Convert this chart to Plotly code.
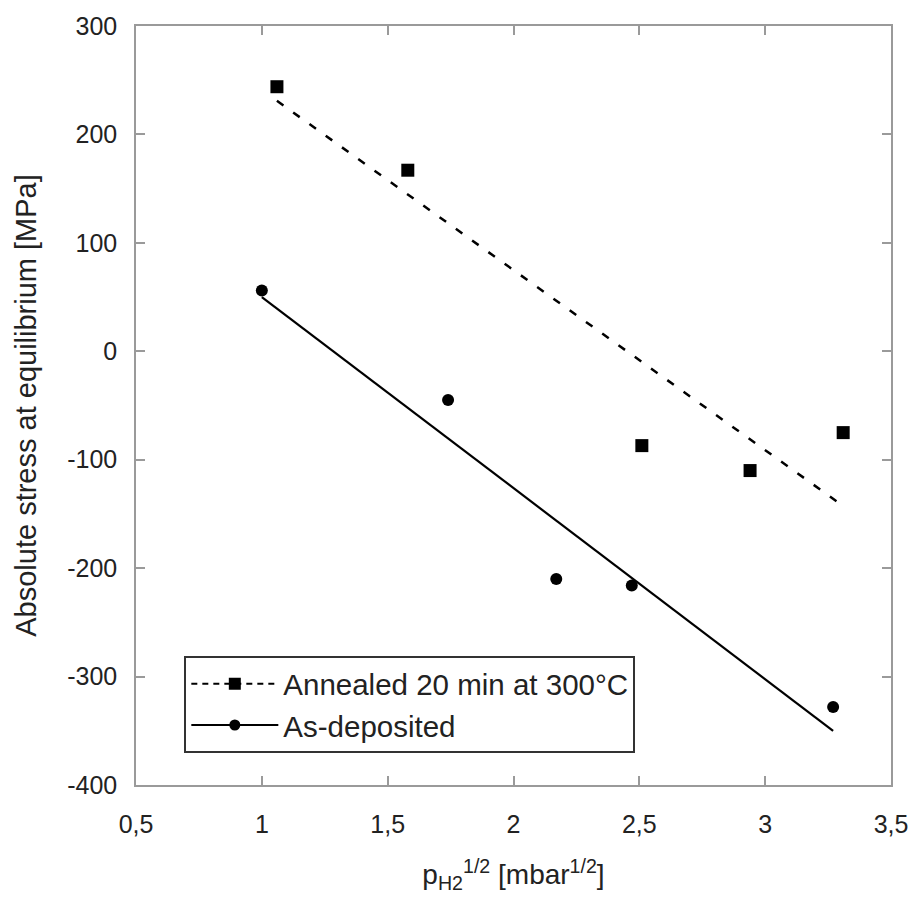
import plotly.graph_objects as go

# Data
annealed_x = [1.06, 1.58, 2.51, 2.94, 3.31]
annealed_y = [244, 167, -87, -110, -75]
asdep_x = [1.00, 1.74, 2.17, 2.47, 3.27]
asdep_y = [56, -45, -210, -216, -328]

# Linear fit lines (endpoints)
annealed_fit_x = [1.06, 3.30]
annealed_fit_y = [231, -141]
asdep_fit_x = [1.00, 3.27]
asdep_fit_y = [50, -350]

x_tickvals = [0.5, 1, 1.5, 2, 2.5, 3, 3.5]
x_ticktext = ["0,5", "1", "1,5", "2", "2,5", "3", "3,5"]
y_tickvals = [300, 200, 100, 0, -100, -200, -300, -400]
y_ticktext = ["300", "200", "100", "0", "-100", "-200", "-300", "-400"]

FONT = "Liberation Sans, Arial, sans-serif"
TXT = "#222222"
AX = "#9a9a9a"

fig = go.Figure()

fig.add_trace(go.Scatter(
    x=annealed_fit_x, y=annealed_fit_y, mode="lines",
    line=dict(color="black", width=2.5, dash="8px,12px"),
    showlegend=False, hoverinfo="skip"))
fig.add_trace(go.Scatter(
    x=asdep_fit_x, y=asdep_fit_y, mode="lines",
    line=dict(color="black", width=2.2),
    showlegend=False, hoverinfo="skip"))

fig.add_trace(go.Scatter(
    x=annealed_x, y=annealed_y, mode="markers",
    marker=dict(symbol="square", size=13, color="black"),
    showlegend=False))
fig.add_trace(go.Scatter(
    x=asdep_x, y=asdep_y, mode="markers",
    marker=dict(symbol="circle", size=12, color="black"),
    showlegend=False))

# Legend entries
fig.add_trace(go.Scatter(
    x=[None], y=[None], mode="lines+markers", name="Annealed 20 min at 300°C",
    line=dict(color="black", width=2, dash="6px,5px"),
    marker=dict(symbol="square", size=12, color="black")))
fig.add_trace(go.Scatter(
    x=[None], y=[None], mode="lines+markers", name="As-deposited",
    line=dict(color="black", width=2),
    marker=dict(symbol="circle", size=11, color="black")))

axis_common = dict(
    showline=True, linecolor=AX, linewidth=1.5, mirror="ticks",
    ticks="inside", ticklen=9, tickcolor=AX, tickwidth=1.5,
    showgrid=False, zeroline=False,
    tickfont=dict(family=FONT, size=25, color=TXT),
)

fig.update_layout(
    width=920, height=906,
    margin=dict(l=136, r=23, t=24, b=121),
    paper_bgcolor="white", plot_bgcolor="white",
    font=dict(family=FONT, color=TXT),
    xaxis=dict(
        range=[0.5, 3.5], tickvals=x_tickvals, ticktext=x_ticktext,
        ticklabelstandoff=16,
        title=dict(text="p<sub>H2</sub><sup>1/2</sup> [mbar<sup>1/2</sup>]",
                   font=dict(family=FONT, size=28, color=TXT), standoff=28),
        **axis_common),
    yaxis=dict(
        range=[-400, 300], tickvals=y_tickvals, ticktext=y_ticktext,
        ticklabelstandoff=12,
        title=dict(text="Absolute stress at equilibrium [MPa]",
                   font=dict(family=FONT, size=29, color=TXT), standoff=22),
        **axis_common),
    legend=dict(
        x=0.064, y=0.17, xanchor="left", yanchor="top",
        bordercolor="#333333", borderwidth=2, bgcolor="white",
        font=dict(family=FONT, size=29.5, color=TXT),
        tracegroupgap=0, itemwidth=87,
    ),
)

fig.write_html("out.html")
